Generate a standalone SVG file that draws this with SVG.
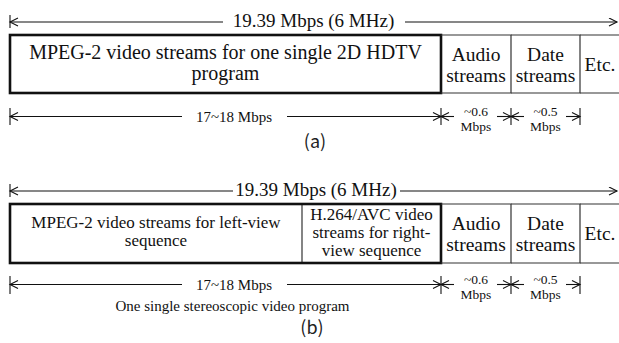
<svg xmlns="http://www.w3.org/2000/svg" width="619" height="343" viewBox="0 0 619 343">
  <style>
    text { font-family: "Liberation Serif", "Times New Roman", serif; fill: #111; }
    .main { font-size: 20px; text-anchor: middle; }
    .mid { font-size: 17px; text-anchor: middle; }
    .cell { font-size: 19.5px; text-anchor: middle; }
    .top { font-size: 19px; text-anchor: middle; }
    .dim { font-size: 15px; text-anchor: middle; }
    .sm { font-size: 13.5px; text-anchor: middle; }
    .cap { font-family: "Noto Sans CJK SC", "DejaVu Sans", sans-serif; font-weight: 400; font-size: 18px; text-anchor: middle; fill: #222; }
    .thick { fill: none; stroke: #111; stroke-width: 2.6; }
    .thin { fill: none; stroke: #333; stroke-width: 1.2; }
    .dl { fill: none; stroke: #111; stroke-width: 1.1; }
    .arr { fill: none; stroke: #111; stroke-width: 1.1; marker-end: url(#head); }
  </style>
  <defs>
    <marker id="head" markerUnits="userSpaceOnUse" markerWidth="12" markerHeight="10" refX="9" refY="4.5" orient="auto">
      <path d="M1,0.5 L9,4.5 L1,8.5" fill="none" stroke="#111" stroke-width="1.1"/>
    </marker>
  </defs>

  <!-- (a) single 2D HDTV program -->
  <g id="a-video">
    <rect class="thick" x="10" y="35" width="431" height="58"/>
    <text class="main" x="225.5" y="59">MPEG-2 video streams for one single 2D HDTV</text>
    <text class="main" x="225.5" y="80">program</text>
  </g>
  <g id="a-audio">
    <path class="thin" d="M441,35 H511 V93 H441"/>
    <text class="cell" x="476" y="61">Audio</text>
    <text class="cell" x="476" y="82">streams</text>
  </g>
  <g id="a-data">
    <path class="thin" d="M511,35 H580 V93 H511"/>
    <text class="cell" x="545.5" y="61">Date</text>
    <text class="cell" x="545.5" y="82">streams</text>
  </g>
  <g id="a-etc">
    <path class="thin" d="M580,35 H619 M580,93 H619"/>
    <text class="cell" x="600" y="71">Etc.</text>
  </g>

  <!-- (b) stereoscopic program -->
  <g id="b-left">
    <text class="mid" x="156" y="228">MPEG-2 video streams for left-view</text>
    <text class="mid" x="156" y="246">sequence</text>
  </g>
  <g id="b-right">
    <line class="thin" x1="302" y1="204" x2="302" y2="263"/>
    <text class="mid" x="371.5" y="220">H.264/AVC video</text>
    <text class="mid" x="371.5" y="238">streams for right-</text>
    <text class="mid" x="371.5" y="256">view sequence</text>
  </g>
  <g id="b-video">
    <rect class="thick" x="10" y="204" width="431" height="59"/>
  </g>
  <g id="b-audio">
    <path class="thin" d="M441,204 H511 V263 H441"/>
    <text class="cell" x="476" y="230">Audio</text>
    <text class="cell" x="476" y="251">streams</text>
  </g>
  <g id="b-data">
    <path class="thin" d="M511,204 H580 V263 H511"/>
    <text class="cell" x="545.5" y="230">Date</text>
    <text class="cell" x="545.5" y="251">streams</text>
  </g>
  <g id="b-etc">
    <path class="thin" d="M580,204 H619 M580,263 H619"/>
    <text class="cell" x="600" y="240">Etc.</text>
  </g>

  <!-- dimension lines -->
  <g id="connectors">
    <!-- (a) total channel -->
    <line class="dl" x1="10" y1="15" x2="10" y2="28"/>
    <line class="arr" x1="223" y1="22" x2="10" y2="22"/>
    <line class="arr" x1="405" y1="22" x2="617" y2="22"/>
    <!-- (a) per-stream rates -->
    <line class="dl" x1="10" y1="108" x2="10" y2="125"/>
    <line class="dl" x1="441" y1="108" x2="441" y2="125"/>
    <line class="dl" x1="511" y1="108" x2="511" y2="125"/>
    <line class="dl" x1="580" y1="108" x2="580" y2="125"/>
    <line class="arr" x1="182" y1="116.5" x2="10" y2="116.5"/>
    <line class="arr" x1="287" y1="116.5" x2="441" y2="116.5"/>
    <line class="arr" x1="454" y1="116.5" x2="441" y2="116.5"/>
    <line class="arr" x1="497" y1="116.5" x2="511" y2="116.5"/>
    <line class="arr" x1="524" y1="116.5" x2="511" y2="116.5"/>
    <line class="arr" x1="566" y1="116.5" x2="580" y2="116.5"/>

    <!-- (b) total channel -->
    <line class="dl" x1="10" y1="184" x2="10" y2="197"/>
    <line class="arr" x1="233" y1="191" x2="10" y2="191"/>
    <line class="arr" x1="400" y1="191" x2="617" y2="191"/>
    <!-- (b) per-stream rates -->
    <line class="dl" x1="10" y1="276" x2="10" y2="294"/>
    <line class="dl" x1="441" y1="276" x2="441" y2="294"/>
    <line class="dl" x1="511" y1="276" x2="511" y2="294"/>
    <line class="dl" x1="580" y1="276" x2="580" y2="294"/>
    <line class="arr" x1="182" y1="284.5" x2="10" y2="284.5"/>
    <line class="arr" x1="287" y1="284.5" x2="441" y2="284.5"/>
    <line class="arr" x1="454" y1="284.5" x2="441" y2="284.5"/>
    <line class="arr" x1="497" y1="284.5" x2="511" y2="284.5"/>
    <line class="arr" x1="524" y1="284.5" x2="511" y2="284.5"/>
    <line class="arr" x1="566" y1="284.5" x2="580" y2="284.5"/>
  </g>

  <!-- labels -->
  <g id="labels">
    <text class="top" x="313.5" y="27">19.39 Mbps (6 MHz)</text>
    <text class="dim" x="234" y="122">17~18 Mbps</text>
    <text class="sm" x="476" y="116">~0.6</text>
    <text class="sm" x="476" y="131">Mbps</text>
    <text class="sm" x="545.5" y="116">~0.5</text>
    <text class="sm" x="545.5" y="131">Mbps</text>
    <text class="cap" x="315" y="148">(a)</text>

    <text class="top" x="316" y="196">19.39 Mbps (6 MHz)</text>
    <text class="dim" x="234" y="290">17~18 Mbps</text>
    <text class="sm" x="476" y="284">~0.6</text>
    <text class="sm" x="476" y="299">Mbps</text>
    <text class="sm" x="545.5" y="284">~0.5</text>
    <text class="sm" x="545.5" y="299">Mbps</text>
    <text class="dim" x="232.5" y="311">One single stereoscopic video program</text>
    <text class="cap" x="312" y="334">(b)</text>
  </g>
</svg>
